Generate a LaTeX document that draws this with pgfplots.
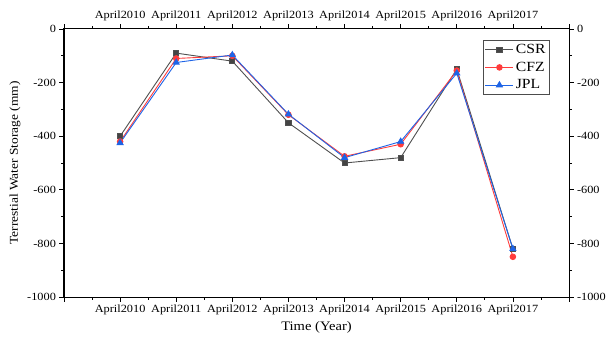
\documentclass[border=0pt]{standalone}
\usepackage{fontspec}
\setmainfont{Liberation Serif}[FakeStretch=1.12]
\usepackage{pgfplots}
\usepackage{pgfplotstable}
\pgfplotsset{compat=1.18}
\definecolor{csr}{HTML}{505050}
\definecolor{cfz}{HTML}{FF3C3C}
\definecolor{jpl}{HTML}{1E64E6}
\pgfplotstableread{
x csr cfz jpl
0 -400 -420 -425
1 -90 -110 -125
2 -120 -100 -97
3 -350 -320 -318
4 -500 -475 -480
5 -480 -430 -420
6 -150 -155 -165
7 -820 -850 -820
}\datatab
\begin{document}
\begin{tikzpicture}[x=1bp,y=1bp]
\useasboundingbox (-64,-46) rectangle (549,297);
\pgfplotsset{common/.style={
  scale only axis, width=505bp, height=268bp, at={(0,0)}, anchor=south west,
  xmin=-1, xmax=8, ymin=-1000, ymax=0,
  xtick={-1,0,...,8},
  xticklabels={,April2010,April2011,April2012,April2013,April2014,April2015,April2016,April2017,},
  minor x tick num=1,
  ytick={-1000,-800,...,0}, minor y tick num=1,
  tick align=outside, tick pos=both,
  major tick length=4.5bp, minor tick length=2.5bp,
  every tick/.style={black, line width=0.7bp},
  axis line style={black, line width=1bp},
  ticklabel style={font=\fontsize{11bp}{12bp}\selectfont},
  /pgf/number format/assume math mode=true,
  /pgf/number format/1000 sep={},
}}
\begin{axis}[common,
  xlabel={Time (Year)},
  ylabel={Terrestial Water Storage (mm)},
  xlabel style={font=\fontsize{13bp}{15bp}\selectfont},
  ylabel style={font=\fontsize{12bp}{14bp}\selectfont},
  legend style={at={(0.962,0.959)}, anchor=north east,
    font=\fontsize{14bp}{16bp}\selectfont, draw=black!70, line width=0.6bp,
    inner sep=2bp, row sep=3bp},
  legend cell align=left,
  legend image code/.code={\draw[mark repeat=2,mark phase=2] plot coordinates {(0bp,0bp) (14bp,0bp) (28bp,0bp)};},
]
\addplot[csr, line width=0.9bp, mark=square*, mark size=2.6bp, mark options={fill=csr!85!black}] table[x=x,y=csr] {\datatab};
\addlegendentry{CSR}
\addplot[cfz, line width=0.9bp, mark=*, mark size=2.8bp] table[x=x,y=cfz] {\datatab};
\addlegendentry{CFZ}
\addplot[jpl, line width=0.9bp, mark=triangle*, mark size=3.4bp] table[x=x,y=jpl] {\datatab};
\addlegendentry{JPL}
\end{axis}
\begin{axis}[common, xticklabel pos=upper, yticklabel pos=right]
\end{axis}
\end{tikzpicture}
\end{document}
